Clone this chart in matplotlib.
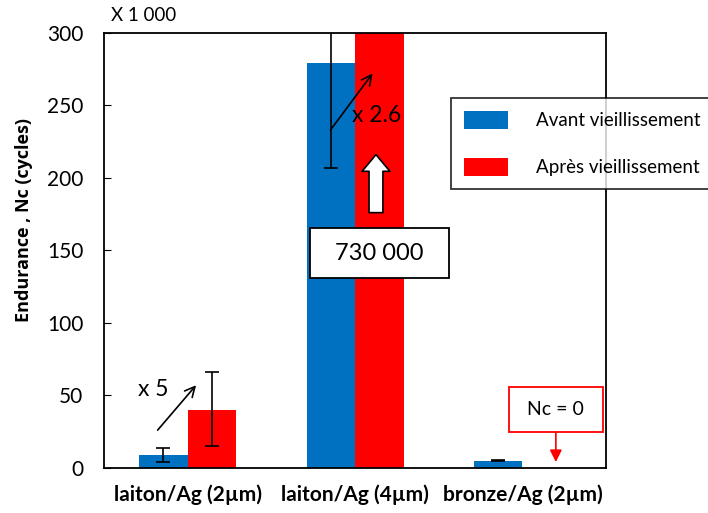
import matplotlib.pyplot as plt
from matplotlib.patches import Rectangle
import numpy as np

plt.rcParams['font.family'] = ['Lato', 'DejaVu Sans']

categories = ["laiton/Ag (2µm)", "laiton/Ag (4µm)", "bronze/Ag (2µm)"]
avant = [9, 279, 5]
avant_err_low = [5, 72, 0.5]
avant_err_high = [5, 72, 0.5]
apres = [40, 730, 0]
apres_err_low = [25, 0, 0]
apres_err_high = [26, 0, 0]

fig = plt.figure(figsize=(7.08, 5.13), dpi=100)
ax = fig.add_axes([0.147, 0.088, 0.709, 0.848])

x = np.arange(len(categories))
w = 0.29
ax.bar(x - w / 2, avant, w, color="#0070C0", label="Avant vieillissement")
ax.bar(x + w / 2, apres, w, color="#FF0000", label="Après vieillissement")
ax.errorbar(x - w / 2, avant, yerr=[avant_err_low, avant_err_high], fmt="none",
            ecolor="black", elinewidth=1.2, capsize=5, capthick=1.2)
ax.errorbar(x[:1] + w / 2, apres[:1], yerr=[apres_err_low[:1], apres_err_high[:1]],
            fmt="none", ecolor="black", elinewidth=1.2, capsize=5, capthick=1.2)

ax.set_xlim(-0.5, 2.5)
ax.set_ylim(0, 300)
ax.set_yticks([0, 50, 100, 150, 200, 250, 300])
ax.set_xticks(x)
ax.set_xticklabels(categories, fontweight="bold", fontsize=15)
ax.tick_params(axis="x", length=0, pad=12)
ax.tick_params(axis="y", direction="in", length=5, labelsize=15, pad=15)
for s in ax.spines.values():
    s.set_linewidth(1.3)
ax.set_ylabel("Endurance , Nc (cycles)", fontweight="bold", fontsize=13,
              family=["Open Sans", "DejaVu Sans"])
ax.yaxis.set_label_coords(-0.142, 0.57)
fig.text(0.157, 0.97, "X 1 000", fontsize=13.5, va="center")

# x 2.6 annotation
ax.annotate("", xy=(1.105, 272), xytext=(0.853, 233),
            arrowprops=dict(arrowstyle="->", color="black", lw=1.2,
                            shrinkA=0, shrinkB=0, mutation_scale=18))
ax.text(0.98, 243, "x 2.6", fontsize=16.5, va="center")

# white arrow
ax.annotate("", xy=(1.125, 216), xytext=(1.125, 176),
            arrowprops=dict(arrowstyle="simple,head_length=0.6,head_width=1.0,tail_width=0.5",
                            fc="white", ec="black", lw=1.2, shrinkA=0, shrinkB=0,
                            mutation_scale=20))
ax.add_patch(Rectangle((0.731, 131), 0.831, 34.5, fc="white", ec="black", lw=1.3, zorder=4))
ax.text(1.144, 148, "730 000", fontsize=17, ha="center", va="center", zorder=5)

# x 5 annotation
ax.annotate("", xy=(0.05, 57), xytext=(-0.18, 26),
            arrowprops=dict(arrowstyle="->", color="black", lw=1.2,
                            shrinkA=0, shrinkB=0, mutation_scale=18))
ax.text(-0.3, 54, "x 5", fontsize=16.5, va="center")

# Nc = 0
ax.add_patch(Rectangle((1.92, 24.8), 0.562, 31.1, fc="white", ec="red", lw=1.3, zorder=4))
ax.text(2.2, 40, "Nc = 0", fontsize=14, ha="center", va="center", zorder=5)
ax.annotate("", xy=(2.2, 4), xytext=(2.2, 24.8),
            arrowprops=dict(arrowstyle="-|>", color="red", lw=1.2,
                            shrinkA=0, shrinkB=0, mutation_scale=18))

leg = ax.legend(loc="upper left", bbox_to_anchor=(0.637, 0.809), bbox_transform=fig.transFigure,
                fontsize=13.5, frameon=True, fancybox=False, edgecolor="black",
                handlelength=2.35, handleheight=1.1, handletextpad=1.5,
                labelspacing=1.5, borderpad=0.7, borderaxespad=0)
leg.get_frame().set_linewidth(1.3)

fig.savefig("out.png", dpi=100)
